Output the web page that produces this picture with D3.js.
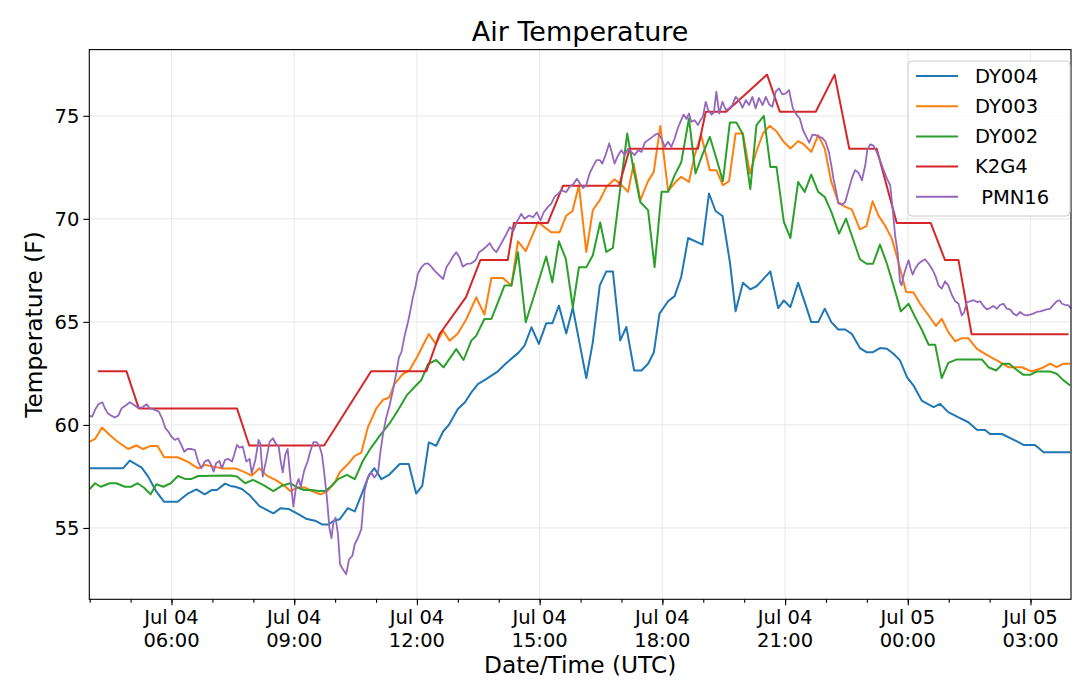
<!DOCTYPE html>
<html>
<head>
<meta charset="utf-8">
<script src="https://cdn.jsdelivr.net/npm/d3@7"></script>
<style>
    body { margin: 0; background: #fff; }
    svg { display: block; font-family: "DejaVu Sans", sans-serif; }
</style>
</head>
<body>
<div id="chart"></div>
<script>
'use strict'

/*
 *  Air Temperature - five stations, Jul 04 04:00 to Jul 05 04:00 UTC
 *  times are hours since Jul 04 00:00 UTC, values in F
 */

var seriesNames = ['DY004', 'DY003', 'DY002', 'K2G4', ' PMN16'];
var seriesColors = ['#1f77b4', '#ff7f0e', '#2ca02c', '#d62728', '#9467bd'];
var yTicks = [55, 60, 65, 70, 75];

var dy004 = [[4.0,57.9],[4.82,57.9],[4.98,58.27],[5.27,57.93],[5.43,57.49],[5.63,56.76],[5.82,56.27],[6.15,56.27],
    [6.41,56.68],[6.61,56.87],[6.81,56.63],[6.98,56.84],[7.11,56.84],[7.31,57.15],[7.44,57.04],[7.56,57.0],[7.72,56.89],
    [7.92,56.57],[8.15,56.06],[8.49,55.71],[8.66,55.95],[8.86,55.92],[9.11,55.66],[9.31,55.43],[9.51,55.35],[9.68,55.17],
    [9.84,55.17],[9.96,55.34],[10.11,55.42],[10.31,55.96],[10.48,55.8],[10.68,56.8],[10.83,57.58],[10.96,57.9],[11.13,57.37],
    [11.32,57.58],[11.58,58.1],[11.8,58.1],[11.98,56.67],[12.13,57.04],[12.29,59.15],[12.47,58.99],[12.64,59.68],[12.78,60.0],
    [13.0,60.77],[13.17,61.09],[13.33,61.58],[13.49,61.98],[13.7,62.23],[13.98,62.6],[14.18,62.99],[14.49,63.52],[14.63,63.85],
    [14.8,64.74],[14.98,63.93],[15.16,64.93],[15.31,64.93],[15.47,65.79],[15.65,64.44],[15.81,65.68],[16.14,62.27],[16.3,64.02],
    [16.47,66.77],[16.63,67.45],[16.79,67.45],[16.97,64.1],[17.12,64.75],[17.31,62.64],[17.49,62.64],[17.65,62.97],[17.79,63.5],
    [17.93,65.4],[18.14,66.0],[18.3,66.25],[18.46,67.18],[18.63,69.07],[18.98,68.75],[19.14,71.23],[19.3,70.38],[19.47,70.14],
    [19.65,67.91],[19.79,65.51],[19.97,66.9],[20.15,66.58],[20.31,66.74],[20.46,67.06],[20.64,67.45],[20.83,65.67],[20.97,66.04],
    [21.13,65.72],[21.32,66.9],[21.48,65.96],[21.64,64.99],[21.81,64.99],[21.97,65.64],[22.13,64.99],[22.3,64.63],[22.47,64.63],
    [22.63,64.42],[22.83,63.73],[22.99,63.53],[23.15,63.53],[23.32,63.73],[23.49,63.7],[23.65,63.45],[23.81,63.13],[23.98,62.32],
    [24.14,61.91],[24.34,61.18],[24.63,60.86],[24.79,61.02],[24.99,60.62],[25.24,60.37],[25.48,60.13],[25.69,59.77],[25.89,59.75],
    [26.01,59.56],[26.3,59.56],[26.58,59.29],[26.83,59.03],[27.11,59.03],[27.32,58.67],[27.97,58.67]];

var dy003 = [[4.0,59.19],[4.13,59.32],[4.3,59.87],[4.49,59.51],[4.7,59.16],[4.94,58.83],[5.14,59.0],[5.31,58.83],[5.49,58.98],
    [5.66,58.98],[5.82,58.43],[6.15,58.43],[6.41,58.19],[6.65,57.89],[6.83,58.06],[7.0,57.98],[7.27,57.89],[7.56,57.89],[7.76,57.73],
    [7.96,57.54],[8.15,57.89],[8.33,57.54],[8.54,57.33],[8.74,57.08],[8.9,56.79],[9.07,56.96],[9.27,56.96],[9.43,56.79],[9.64,56.63],
    [9.8,56.76],[10.0,57.25],[10.11,57.69],[10.35,58.18],[10.48,58.5],[10.64,58.66],[10.8,59.88],[11.01,60.82],[11.17,61.21],
    [11.32,61.33],[11.45,61.98],[11.64,62.44],[11.82,62.66],[12.0,63.28],[12.29,64.41],[12.46,63.93],[12.64,64.57],[12.8,64.09],
    [13.0,64.44],[13.21,65.14],[13.45,66.19],[13.65,65.35],[13.82,67.13],[14.1,67.13],[14.31,66.76],[14.47,68.91],[14.66,68.43],
    [14.96,69.84],[15.28,69.35],[15.49,69.35],[15.65,70.16],[15.8,70.37],[15.96,71.62],[16.14,68.39],[16.3,70.42],[16.47,70.9],
    [16.63,71.55],[16.83,71.92],[16.99,71.66],[17.16,71.31],[17.3,72.68],[17.46,70.9],[17.65,71.83],[17.79,72.28],[17.95,74.51],
    [18.14,71.34],[18.34,71.83],[18.46,72.04],[18.65,71.79],[18.79,73.09],[18.95,74.06],[19.16,72.36],[19.32,72.36],[19.48,71.63],
    [19.63,71.83],[19.79,74.14],[19.97,74.14],[20.14,72.2],[20.3,73.28],[20.46,74.14],[20.62,74.51],[20.79,74.25],[20.95,73.77],
    [21.13,73.41],[21.32,73.77],[21.46,73.61],[21.64,73.25],[21.81,74.06],[21.97,73.41],[22.13,71.79],[22.3,70.82],[22.47,70.58],
    [22.63,70.46],[22.83,69.49],[22.99,69.65],[23.14,70.85],[23.28,70.17],[23.45,69.65],[23.61,69.04],[23.77,67.91],[23.96,66.45],
    [24.14,66.42],[24.3,65.88],[24.51,65.31],[24.69,64.8],[24.83,65.15],[24.99,64.5],[25.16,64.05],[25.32,64.21],[25.48,64.21],
    [25.69,63.69],[25.93,63.4],[26.22,63.08],[26.46,62.8],[26.79,62.8],[27.03,62.59],[27.28,62.76],[27.48,62.97],[27.64,62.8],
    [27.81,62.97],[27.97,62.97]];

var dy002 = [[4.0,56.89],[4.13,57.17],[4.27,57.0],[4.49,57.17],[4.65,57.17],[4.86,57.0],[5.02,57.0],[5.17,57.17],[5.33,56.95],
    [5.49,56.63],[5.63,57.12],[5.8,57.0],[5.98,57.17],[6.16,57.52],[6.33,57.38],[6.49,57.38],[6.65,57.52],[7.44,57.54],[7.6,57.5],
    [7.8,57.17],[7.99,57.33],[8.25,57.08],[8.49,56.79],[8.7,57.05],[8.9,57.17],[9.08,56.96],[9.24,56.84],[9.43,56.84],[9.59,56.79],
    [9.76,56.79],[9.92,57.05],[10.07,57.37],[10.29,57.58],[10.48,57.37],[10.68,58.26],[10.88,58.9],[11.09,59.47],[11.33,60.07],
    [11.54,60.72],[11.76,61.46],[11.97,61.9],[12.11,62.18],[12.27,62.95],[12.47,63.15],[12.65,62.79],[12.96,63.68],[13.14,63.15],
    [13.33,64.09],[13.45,64.33],[13.65,65.14],[13.82,65.14],[13.98,65.95],[14.14,66.76],[14.31,66.76],[14.47,68.38],[14.66,64.98],
    [14.9,66.5],[15.16,68.17],[15.31,66.92],[15.47,68.91],[15.64,68.06],[15.81,65.71],[15.96,67.65],[16.14,67.65],[16.3,68.23],
    [16.48,69.82],[16.63,68.39],[16.79,68.59],[16.96,71.31],[17.14,74.14],[17.3,72.36],[17.46,70.82],[17.65,70.42],[17.81,67.66],
    [17.98,71.31],[18.14,71.31],[18.3,72.12],[18.46,72.73],[18.65,74.87],[18.81,72.2],[18.98,73.12],[19.16,73.98],[19.32,72.93],
    [19.48,71.83],[19.65,74.68],[19.81,74.68],[19.96,74.14],[20.15,71.44],[20.3,74.55],[20.48,75.0],[20.64,72.52],[20.79,72.52],
    [20.97,69.85],[21.13,69.07],[21.32,71.79],[21.48,71.31],[21.64,72.15],[21.81,71.31],[21.97,71.06],[22.13,70.34],[22.32,69.28],
    [22.49,70.01],[22.67,68.96],[22.83,68.04],[22.99,67.82],[23.15,67.82],[23.32,68.75],[23.49,67.82],[23.65,66.77],[23.83,65.51],
    [24.02,65.88],[24.18,65.23],[24.34,64.63],[24.51,63.89],[24.67,63.89],[24.83,62.27],[24.99,63.01],[25.2,63.18],[25.81,63.18],
    [25.97,62.8],[26.16,62.64],[26.32,62.97],[26.48,62.97],[26.65,62.69],[26.83,62.43],[26.99,62.43],[27.15,62.59],[27.48,62.59],
    [27.64,62.48],[27.81,62.16],[27.97,61.91]];

var k2g4 = [[4.2,62.6],[4.9,62.6],[5.2,60.8],[7.6,60.8],[7.9,59],[9.73,59],[10.88,62.6],[12.23,62.6],[12.55,64.4],[13.2,66.2],
    [13.55,68],[14.22,68],[14.37,69.8],[15.2,69.8],[15.57,71.6],[16.94,71.6],[17.2,73.4],[18.87,73.4],[19.06,75.2],[19.56,75.2],
    [20.56,77],[20.87,75.2],[21.75,75.2],[22.21,77],[22.57,73.4],[23.24,73.4],[23.73,69.8],[24.56,69.8],[24.91,68],[25.24,68],
    [25.56,64.4],[27.93,64.4]];

var pmn16 = [[3.99,60.45],[4.06,60.4],[4.13,60.73],[4.21,61.0],[4.31,61.1],[4.37,60.81],[4.44,60.57],[4.53,60.45],[4.61,60.36],
    [4.7,60.45],[4.78,60.81],[4.88,60.94],[4.98,61.1],[5.06,61.0],[5.17,60.84],[5.28,60.84],[5.39,61.0],[5.47,60.81],[5.59,60.73],
    [5.69,60.65],[5.77,60.32],[5.85,59.84],[5.92,59.68],[6.0,59.43],[6.08,59.27],[6.16,59.35],[6.24,59.03],[6.31,58.7],[6.39,58.83],
    [6.49,58.83],[6.57,58.79],[6.65,58.22],[6.73,57.89],[6.81,58.22],[6.9,58.3],[6.96,58.1],[7.03,57.73],[7.09,58.14],[7.17,58.25],
    [7.23,57.89],[7.31,58.3],[7.39,58.35],[7.48,58.22],[7.53,58.54],[7.6,59.03],[7.66,58.9],[7.74,58.95],[7.83,58.22],[7.91,58.35],
    [7.96,57.65],[8.05,58.3],[8.13,59.27],[8.17,59.1],[8.23,57.49],[8.32,58.35],[8.4,59.19],[8.48,59.35],[8.54,59.11],[8.62,58.95],
    [8.67,58.22],[8.72,57.7],[8.78,58.54],[8.84,58.83],[8.89,57.73],[8.94,56.76],[8.98,56.03],[9.05,57.08],[9.11,57.38],[9.16,57.0],
    [9.24,57.76],[9.33,58.25],[9.39,58.7],[9.47,59.16],[9.55,59.16],[9.62,58.95],[9.68,58.54],[9.73,57.73],[9.8,56.44],[9.86,55.0],
    [9.91,54.5],[9.96,55.3],[10.01,55.5],[10.07,54.69],[10.12,53.24],[10.19,52.99],[10.27,52.75],[10.34,53.48],[10.42,53.64],
    [10.48,54.21],[10.56,54.53],[10.64,54.94],[10.72,56.8],[10.8,57.45],[10.88,57.69],[10.96,57.45],[11.05,57.69],[11.1,58.58],
    [11.17,59.55],[11.25,60.36],[11.33,60.93],[11.41,61.66],[11.49,62.47],[11.56,63.28],[11.62,63.52],[11.7,64.33],[11.78,64.98],
    [11.84,65.55],[11.9,66.19],[11.97,66.76],[12.02,67.33],[12.11,67.65],[12.19,67.81],[12.27,67.84],[12.35,67.68],[12.43,67.49],
    [12.51,67.33],[12.64,67.08],[12.72,67.65],[12.8,67.89],[12.88,68.17],[12.96,68.38],[13.04,68.14],[13.12,67.68],[13.22,67.81],
    [13.33,67.84],[13.43,67.98],[13.52,68.38],[13.6,68.49],[13.7,68.66],[13.78,68.82],[13.86,68.54],[13.94,68.38],[14.02,68.66],
    [14.1,68.95],[14.18,69.24],[14.27,69.6],[14.36,69.43],[14.44,69.84],[14.55,70.24],[14.63,70.0],[14.74,70.16],[14.84,70.08],
    [14.93,70.32],[15.02,69.92],[15.1,70.32],[15.2,70.57],[15.28,70.73],[15.37,71.09],[15.45,71.21],[15.53,71.38],[15.65,71.3],
    [15.73,71.54],[15.83,71.7],[15.91,71.94],[15.99,71.7],[16.06,71.5],[16.14,71.63],[16.22,72.2],[16.3,72.52],[16.39,72.85],
    [16.47,72.85],[16.53,72.68],[16.61,73.09],[16.7,73.66],[16.75,73.33],[16.83,72.68],[16.92,73.09],[17.0,73.33],[17.08,73.09],
    [17.16,73.41],[17.24,73.25],[17.32,73.09],[17.41,73.33],[17.49,73.25],[17.57,73.7],[17.65,73.82],[17.73,73.93],[17.81,74.06],
    [17.89,74.14],[17.98,73.9],[18.06,73.49],[18.14,73.74],[18.22,73.49],[18.3,73.9],[18.38,74.42],[18.46,74.79],[18.52,75.06],
    [18.59,74.84],[18.65,75.11],[18.71,74.71],[18.79,74.79],[18.87,74.55],[18.93,74.79],[18.99,74.95],[19.06,75.68],[19.12,75.28],
    [19.2,75.06],[19.26,75.15],[19.32,76.17],[19.39,75.11],[19.47,75.68],[19.55,75.28],[19.63,75.36],[19.71,75.52],[19.79,75.92],
    [19.87,75.76],[19.96,75.39],[20.04,75.76],[20.12,75.52],[20.2,75.92],[20.28,75.36],[20.36,75.87],[20.45,75.52],[20.53,75.92],
    [20.61,75.55],[20.69,75.44],[20.77,76.17],[20.85,76.33],[20.93,76.04],[21.02,76.09],[21.1,76.25],[21.13,75.92],[21.19,75.36],
    [21.28,75.06],[21.36,74.87],[21.44,74.3],[21.52,73.98],[21.59,73.7],[21.67,74.09],[21.75,74.06],[21.83,73.98],[21.91,73.93],
    [21.99,73.74],[22.07,73.25],[22.13,72.6],[22.19,71.87],[22.25,71.31],[22.3,70.75],[22.39,70.69],[22.47,70.82],[22.55,71.39],
    [22.63,71.95],[22.71,72.36],[22.79,72.25],[22.88,71.87],[22.96,72.6],[23.01,73.33],[23.08,73.61],[23.16,73.55],[23.24,73.25],
    [23.32,72.85],[23.41,72.36],[23.49,71.95],[23.57,71.63],[23.63,70.5],[23.69,69.2],[23.75,68.39],[23.81,66.93],[23.85,66.77],
    [23.89,67.18],[23.96,67.66],[24.02,67.99],[24.07,67.58],[24.12,67.29],[24.18,67.58],[24.26,67.82],[24.34,67.94],[24.42,68.04],
    [24.51,67.82],[24.59,67.58],[24.67,67.26],[24.75,66.77],[24.83,66.61],[24.91,66.97],[24.99,66.77],[25.08,66.29],[25.16,66.0],
    [25.24,65.88],[25.32,65.31],[25.38,65.47],[25.44,65.96],[25.52,66.0],[25.61,66.05],[25.69,65.96],[25.77,66.0],[25.85,65.77],
    [25.93,65.61],[26.01,65.67],[26.09,65.77],[26.18,65.64],[26.26,65.83],[26.34,65.88],[26.42,65.64],[26.5,65.61],[26.58,65.4],
    [26.66,65.31],[26.75,65.48],[26.83,65.35],[26.91,65.31],[26.99,65.35],[27.07,65.4],[27.15,65.48],[27.24,65.51],[27.32,65.56],
    [27.4,65.61],[27.48,65.64],[27.56,65.83],[27.64,66.0],[27.71,66.05],[27.77,65.88],[27.85,65.83],[27.93,65.8],[27.99,65.64]];

var allSeries = [dy004, dy003, dy002, k2g4, pmn16];

(function() {
    var width = 1080, height = 689;
    var margin = {top: 49.6, right: 9, bottom: 89.7, left: 89.3};
    var w = width - margin.left - margin.right;
    var h = height - margin.top - margin.bottom;

    var base = Date.UTC(2017, 6, 4);
    var toDate = function(hr) { return new Date(base + hr * 3600e3); };

    var svg = d3.select('#chart').append('svg')
        .attr('width', width)
        .attr('height', height);

    // SCALES
    var allPts = d3.merge(allSeries);
    var x = d3.scaleUtc()
        .domain(d3.extent(allPts, function(d) { return toDate(d[0]); }))
        .range([0, w]);
    var yExt = d3.extent(allPts, function(d) { return d[1]; });
    var pad = (yExt[1] - yExt[0]) * 0.05;
    var y = d3.scaleLinear()
        .domain([yExt[0] - pad, yExt[1] + pad])
        .range([h, 0]);

    var g = svg.append('g')
        .attr('transform', 'translate(' + margin.left + ',' + margin.top + ')');

    var majorTicks = x.ticks(d3.utcHour.every(3));
    var minorTicks = x.ticks(d3.utcHour.every(1));

    // GRID
    g.append('g').selectAll('line')
        .data(majorTicks).enter().append('line')
        .attr('x1', function(d) { return x(d); })
        .attr('x2', function(d) { return x(d); })
        .attr('y1', 0).attr('y2', h)
        .attr('stroke', '#ebebeb').attr('stroke-width', 1.2);
    g.append('g').selectAll('line')
        .data(yTicks).enter().append('line')
        .attr('y1', function(d) { return y(d); })
        .attr('y2', function(d) { return y(d); })
        .attr('x1', 0).attr('x2', w)
        .attr('stroke', '#ebebeb').attr('stroke-width', 1.2);

    // LINES
    var line = d3.line()
        .x(function(d) { return x(toDate(d[0])); })
        .y(function(d) { return y(d[1]); });

    var plot = g.append('g');
    allSeries.forEach(function(s, i) {
        plot.append('path')
            .datum(s)
            .attr('fill', 'none')
            .attr('stroke', seriesColors[i])
            .attr('stroke-width', i === 4 ? 1.8 : 2)
            .attr('stroke-linejoin', 'round')
            .attr('d', line);
    });

    // AXES
    var fmtDay = d3.utcFormat('%b %d');
    var fmtTime = d3.utcFormat('%H:%M');

    var xAxis = g.append('g')
        .attr('transform', 'translate(0,' + h + ')')
        .call(d3.axisBottom(x).tickValues(minorTicks).tickSize(3.5).tickFormat(''));
    xAxis.select('.domain').remove();

    var xMajor = g.append('g')
        .attr('transform', 'translate(0,' + h + ')')
        .call(d3.axisBottom(x).tickValues(majorTicks).tickSize(6).tickFormat(''));
    xMajor.select('.domain').remove();
    g.selectAll('.tick line').attr('stroke', '#000').attr('stroke-width', 1.1);

    var xLabels = g.append('g').selectAll('text')
        .data(majorTicks).enter().append('text')
        .attr('x', function(d) { return x(d); })
        .attr('y', h + 25)
        .attr('text-anchor', 'middle')
        .attr('font-size', 19.5)
        .attr('fill', '#000');
    xLabels.append('tspan')
        .attr('x', function(d) { return x(d); })
        .text(function(d) { return fmtDay(d); });
    xLabels.append('tspan')
        .attr('x', function(d) { return x(d); })
        .attr('dy', 22.5)
        .text(function(d) { return fmtTime(d); });

    var yAxis = g.append('g')
        .call(d3.axisLeft(y).tickValues(yTicks).tickSize(6).tickPadding(4));
    yAxis.select('.domain').remove();
    yAxis.selectAll('.tick line').attr('stroke', '#000').attr('stroke-width', 1.1);
    yAxis.selectAll('.tick text')
        .attr('font-size', 19.5)
        .attr('font-family', '"DejaVu Sans", sans-serif')
        .attr('fill', '#000');

    // frame
    g.append('rect')
        .attr('width', w).attr('height', h)
        .attr('fill', 'none')
        .attr('stroke', '#000')
        .attr('stroke-width', 1.1);

    // TITLES
    svg.append('text')
        .attr('x', margin.left + w / 2)
        .attr('y', 41)
        .attr('text-anchor', 'middle')
        .attr('font-size', 27)
        .text('Air Temperature');
    svg.append('text')
        .attr('x', margin.left + w / 2)
        .attr('y', 673)
        .attr('text-anchor', 'middle')
        .attr('font-size', 23.3)
        .text('Date/Time (UTC)');
    svg.append('text')
        .attr('transform', 'translate(42,' + (margin.top + h / 2) + ') rotate(-90)')
        .attr('text-anchor', 'middle')
        .attr('font-size', 23.3)
        .text('Temperature (F)');

    // LEGEND
    var legend = svg.append('g')
        .attr('transform', 'translate(908,61)');
    legend.append('rect')
        .attr('width', 162).attr('height', 155)
        .attr('rx', 4)
        .attr('fill', '#fff').attr('fill-opacity', 0.8)
        .attr('stroke', '#cccccc');
    var item = legend.selectAll('g.item')
        .data(seriesNames).enter().append('g')
        .attr('transform', function(d, i) { return 'translate(0,' + (15 + i * 30.2) + ')'; });
    item.append('line')
        .attr('x1', 8).attr('x2', 50)
        .attr('stroke', function(d, i) { return seriesColors[i]; })
        .attr('stroke-width', 2);
    item.append('text')
        .attr('x', 67)
        .attr('dy', '0.35em')
        .attr('font-size', 19.5)
        .style('white-space', 'pre')
        .text(function(d) { return d; });
}());
</script>
</body>
</html>
